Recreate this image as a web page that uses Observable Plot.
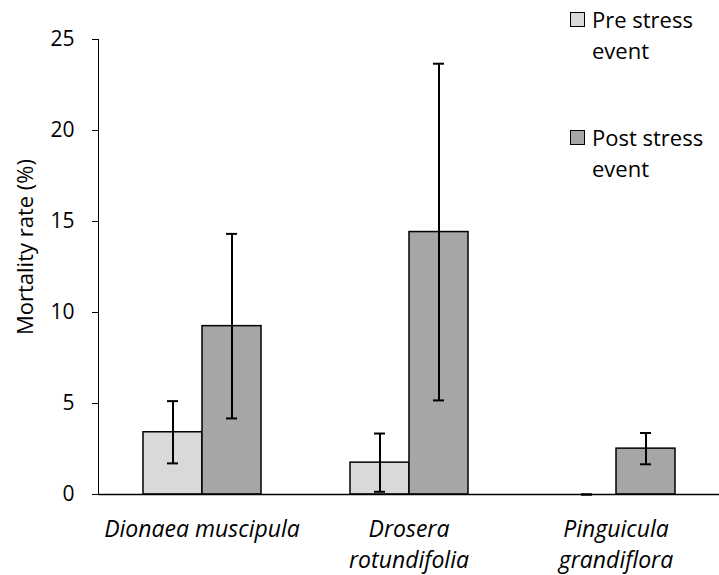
<!DOCTYPE html>
<html><head><meta charset="utf-8">
<script src="https://cdn.jsdelivr.net/npm/d3@7"></script>
<script src="https://cdn.jsdelivr.net/npm/@observablehq/plot@0.6"></script>
<style>
body{margin:0;background:#fff;}
#wrap{position:relative;width:719px;height:575px;font-family:"Open Sans",sans-serif;}
.leg{position:absolute;left:570px;font-size:22px;line-height:31px;color:#000;}
.leg .sw{position:absolute;left:0;top:8px;width:13px;height:13px;border:1.5px solid #000;}
.leg .tx{margin-left:22px;}
</style></head><body>
<div id="wrap"></div>
<script>
const groups = ["Dionaea muscipula", "Drosera rotundifolia", "Pinguicula grandiflora"];
const groupLabels = ["Dionaea muscipula", "Drosera\nrotundifolia", "Pinguicula\ngrandiflora"];
const seriesKeys = ["Pre", "Post"];
const seriesNames = ["Pre stress\nevent", "Post stress\nevent"];
const preValues = [3.42, 1.75, 0];
const preErrors = [1.71, 1.6, 0];
const postValues = [9.25, 14.42, 2.52];
const postErrors = [5.07, 9.25, 0.86];
const yTicks = [0, 5, 10, 15, 20, 25];
const yTitle = "Mortality rate (%)";
const colors = ["#d9d9d9", "#a6a6a6"];

const data = groups.flatMap((g, i) => [
  {group: g, series: "Pre", value: preValues[i], err: preErrors[i]},
  {group: g, series: "Post", value: postValues[i], err: postErrors[i]}
]);

const chart = Plot.plot({
  width: 719, height: 575,
  marginLeft: 97, marginRight: 0, marginTop: 39, marginBottom: 81,
  style: {fontFamily: "Open Sans", fontSize: "21px", color: "#000", background: "#fff"},
  fx: {domain: groups, padding: 0, axis: null},
  x: {domain: seriesKeys, paddingInner: 0, paddingOuter: 0.74, axis: null},
  y: {domain: [0, 25], ticks: yTicks, tickSize: 6, tickPadding: 18, line: true, label: null},
  color: {domain: seriesKeys, range: colors},
  marks: [
    Plot.barY(data, {fx: "group", x: "series", y: "value", fill: "series", stroke: "#000", strokeWidth: 1.5}),
    Plot.ruleY([0], {stroke: "#000", strokeWidth: 1.5}),
    Plot.ruleX(data, {fx: "group", x: "series", y1: d => d.value - d.err, y2: d => d.value + d.err, stroke: "#000", strokeWidth: 2}),
    Plot.tickY(data, {fx: "group", x: "series", y: d => d.value - d.err, insetLeft: 24, insetRight: 24, stroke: "#000", strokeWidth: 2}),
    Plot.tickY(data, {fx: "group", x: "series", y: d => d.value + d.err, insetLeft: 24, insetRight: 24, stroke: "#000", strokeWidth: 2}),
    Plot.text(groups, {fx: d => d, text: (d, i) => groupLabels[i], frameAnchor: "bottom", lineAnchor: "top",
      dy: 20, fontStyle: "italic", fontSize: 23, lineHeight: 1.35, fill: "#000"}),
    Plot.text([yTitle], {fx: () => groups[0], text: d => d, frameAnchor: "left", textAnchor: "middle",
      rotate: -90, dx: -73, dy: -20, fontSize: 22, fill: "#000"})
  ]
});
const wrap = document.getElementById("wrap");
wrap.appendChild(chart);
const legTops = [4, 122];
seriesNames.forEach((name, i) => {
  const d = document.createElement("div");
  d.className = "leg";
  d.style.top = legTops[i] + "px";
  const sw = document.createElement("div");
  sw.className = "sw"; sw.style.background = colors[i];
  const tx = document.createElement("div");
  tx.className = "tx";
  tx.innerHTML = name.split("\n").join("<br>");
  d.appendChild(sw); d.appendChild(tx);
  wrap.appendChild(d);
});
</script>
</body></html>
